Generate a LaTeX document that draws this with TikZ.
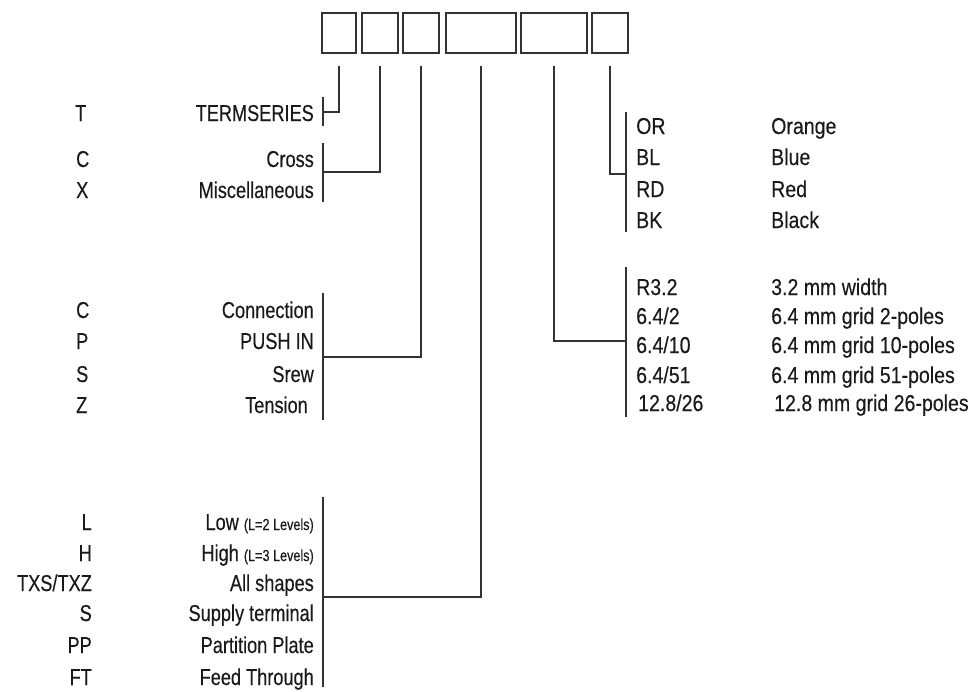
\documentclass[tikz,border=0pt]{standalone}
\usepackage{fontspec}
\setmainfont{Liberation Sans}[FakeStretch=0.79,FakeBold=0.3]
\newfontfamily\rightfont{Liberation Sans}[FakeStretch=0.85,FakeBold=0.3]
\definecolor{linec}{HTML}{333333}
\definecolor{txt}{HTML}{1A1A1A}
\begin{document}
\begin{tikzpicture}[x=1pt,y=-1pt,
  box/.style={draw=linec, line width=1.4pt, inner sep=0pt, minimum height=40pt},
  conn/.style={draw=linec, line width=1.4pt},
  lbl/.style={inner sep=0pt, text=txt, font=\fontsize{23}{27}\selectfont},
  desc/.style={lbl, anchor=base east},
  codel/.style={lbl, anchor=base west},
  coder/.style={lbl, anchor=base east},
  rcode/.style={lbl, anchor=base west, font=\rightfont\fontsize{23}{27}\selectfont},
  rdesc/.style={lbl, anchor=base west, font=\rightfont\fontsize{23}{27}\selectfont}
]
\useasboundingbox (0,0) rectangle (973,691);

% top boxes
\node[box, minimum width=34pt] (b1) at (339,33) {};
\node[box, minimum width=36pt] (b2) at (380,33) {};
\node[box, minimum width=36pt] (b3) at (421,33) {};
\node[box, minimum width=70pt] (b4) at (481,33) {};
\node[box, minimum width=66pt] (b5) at (554,33) {};
\node[box, minimum width=36pt] (b6) at (610,33) {};

% bracket coordinates
\coordinate (g1t) at (323,97);  \coordinate (g1m) at (323,112); \coordinate (g1b) at (323,126);
\coordinate (g2t) at (323,143); \coordinate (g2m) at (323,172); \coordinate (g2b) at (323,202);
\coordinate (g3t) at (323,293); \coordinate (g3m) at (323,357); \coordinate (g3b) at (323,420);
\coordinate (g4t) at (323,497); \coordinate (g4m) at (323,597); \coordinate (g4b) at (323,687);
\coordinate (g5t) at (626,112); \coordinate (g5m) at (626,174); \coordinate (g5b) at (626,232);
\coordinate (g6t) at (626,267); \coordinate (g6m) at (626,341); \coordinate (g6b) at (626,417);

\foreach \g in {1,...,6} {\draw[conn] (g\g t) -- (g\g b);}

% connectors
\draw[conn] ([yshift=-12pt]b1.south) |- (g1m);
\draw[conn] ([yshift=-12pt]b2.south) |- (g2m);
\draw[conn] ([yshift=-12pt]b3.south) |- (g3m);
\draw[conn] ([yshift=-12pt]b4.south) |- (g4m);
\draw[conn] ([yshift=-12pt]b6.south) |- (g5m);
\draw[conn] ([yshift=-12pt]b5.south) |- (g6m);

% group 1
\node[codel] (cT) at (75,121) {T};
\node[desc] (dT) at (314,121) {TERMSERIES};
% group 2
\node[codel] (cC) at (76,167) {C};
\node[desc] (dC) at (314,167) {Cross};
\node[codel] (cX) at (76,198) {X};
\node[desc] (dX) at (314,198) {Miscellaneous};
% group 3
\node[codel] (cC2) at (76,318) {C};
\node[desc] (dC2) at (314,318) {Connection};
\node[codel] (cP) at (76,349) {P};
\node[desc] (dP) at (314,349) {PUSH IN};
\node[codel] (cS) at (76,382) {S};
\node[desc] (dS) at (314,382) {Srew};
\node[codel] (cZ) at (76,413) {Z};
\node[desc] (dZ) at (308,413) {Tension};
% group 4
\node[coder] (cL) at (92,530) {L};
\node[desc] (dL) at (314,530) {Low {\fontsize{16}{18}\selectfont(L=2 Levels)}};
\node[coder] (cH) at (92,561) {H};
\node[desc] (dH) at (314,561) {High {\fontsize{16}{18}\selectfont(L=3 Levels)}};
\node[coder] (cTXS) at (92,591) {TXS/TXZ};
\node[desc] (dTXS) at (314,591) {All shapes};
\node[coder] (cS2) at (92,621) {S};
\node[desc] (dS2) at (314,621) {Supply terminal};
\node[coder] (cPP) at (92,653) {PP};
\node[desc] (dPP) at (314,653) {Partition Plate};
\node[coder] (cFT) at (92,685) {FT};
\node[desc] (dFT) at (314,685) {Feed Through};

% colours
\node[rcode] (cOR) at (636,134) {OR};
\node[rdesc] (dOR) at (771,134) {Orange};
\node[rcode] (cBL) at (636,165) {BL};
\node[rdesc] (dBL) at (771,165) {Blue};
\node[rcode] (cRD) at (636,197) {RD};
\node[rdesc] (dRD) at (771,197) {Red};
\node[rcode] (cBK) at (636,228) {BK};
\node[rdesc] (dBK) at (771,228) {Black};

% widths
\node[rcode] (cR) at (636,295) {R3.2};
\node[rdesc] (dR) at (771,295) {3.2 mm width};
\node[rcode] (c62) at (636,324) {6.4/2};
\node[rdesc] (d62) at (771,324) {6.4 mm grid 2-poles};
\node[rcode] (c610) at (636,353) {6.4/10};
\node[rdesc] (d610) at (771,353) {6.4 mm grid 10-poles};
\node[rcode] (c651) at (636,383) {6.4/51};
\node[rdesc] (d651) at (771,383) {6.4 mm grid 51-poles};
\node[rcode] (c128) at (638,411) {12.8/26};
\node[rdesc] (d128) at (774,411) {12.8 mm grid 26-poles};
\end{tikzpicture}
\end{document}
